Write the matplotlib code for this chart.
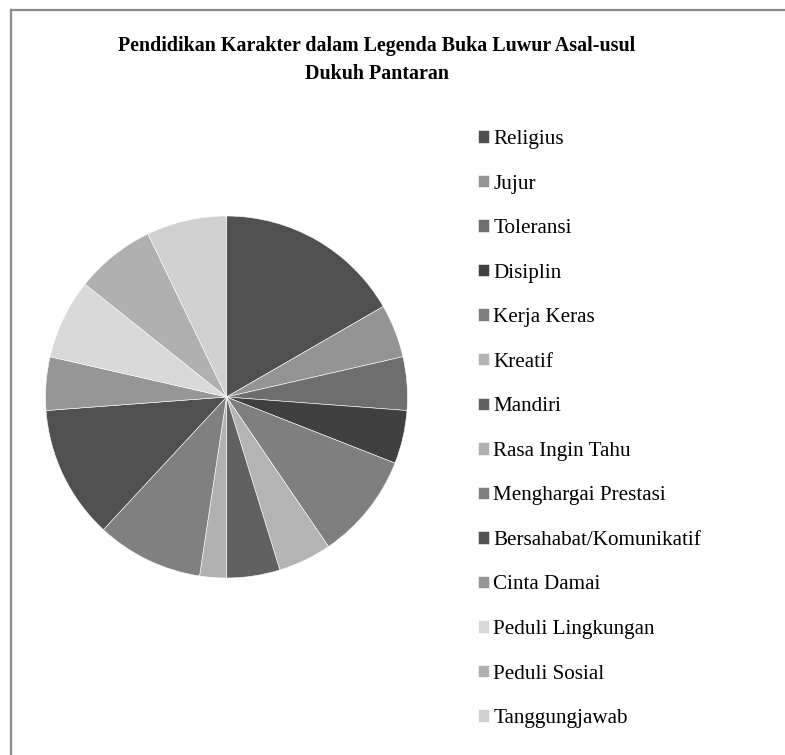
import matplotlib
matplotlib.use("Agg")
import matplotlib.pyplot as plt
from matplotlib.lines import Line2D

categories = ["Religius", "Jujur", "Toleransi", "Disiplin", "Kerja Keras", "Kreatif",
              "Mandiri", "Rasa Ingin Tahu", "Menghargai Prestasi",
              "Bersahabat/Komunikatif", "Cinta Damai", "Peduli Lingkungan",
              "Peduli Sosial", "Tanggungjawab"]
values = [7, 2, 2, 2, 4, 2, 2, 1, 4, 5, 2, 3, 3, 3]
colors = ["#505050", "#949494", "#6e6e6e", "#404040", "#7f7f7f", "#b4b4b4",
          "#616161", "#b1b1b1", "#808080", "#505050", "#969696", "#d9d9d9",
          "#b0b0b0", "#d0d0d0"]
title = "Pendidikan Karakter dalam Legenda Buka Luwur Asal-usul\nDukuh Pantaran"

plt.rcParams['font.family'] = ['Liberation Serif', 'DejaVu Serif']

W, H = 785, 755
fig = plt.figure(figsize=(W / 100, H / 100), dpi=100)

cx, cy, r = 226.5, 397, 181
ax = fig.add_axes([(cx - r) / W, (H - cy - r) / H, 2 * r / W, 2 * r / H])
wedges, _ = ax.pie(values, colors=colors, startangle=90, counterclock=False,
                   radius=1, wedgeprops=dict(edgecolor="white", linewidth=0.4))
ax.set_xlim(-1, 1)
ax.set_ylim(-1, 1)
ax.set_aspect("equal")
ax.axis("off")

fig.text(377 / W, 1 - 60 / H, title, ha="center", va="center",
         fontsize=14.4, fontweight="bold", linespacing=1.56)

leg = fig.legend(wedges, categories, loc="upper left",
                 bbox_to_anchor=(478 / W, 1 - 130 / H), frameon=False,
                 fontsize=15.2, handlelength=0.53, handleheight=0.53,
                 handletextpad=0.2, labelspacing=1.21, borderaxespad=0,
                 borderpad=0)

# frame lines (top and left)
fig.add_artist(Line2D([11 / W, 11 / W], [0, 1 - 10 / H], transform=fig.transFigure,
                      color="#8c8c8c", linewidth=1.6))
fig.add_artist(Line2D([11 / W, 1], [1 - 10 / H, 1 - 10 / H], transform=fig.transFigure,
                      color="#8c8c8c", linewidth=1.6))

fig.savefig("out.png", dpi=100, facecolor="white")
